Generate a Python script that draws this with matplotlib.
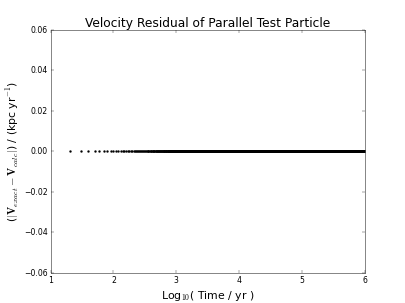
import numpy as np
import matplotlib
matplotlib.use("Agg")
import matplotlib.pyplot as plt

plt.style.use("classic")

# Data: time samples every 10 yr from 20 yr to 1e6 yr,
# residuals all zero.
time_start = 20.0
time_step = 10.0
time_end = 1.0e6
residual_value = 0.0

time = np.arange(time_start, time_end + time_step, time_step)
residual = np.full(time.shape, residual_value)

xticks = [1, 2, 3, 4, 5, 6]
yticks = [-0.06, -0.04, -0.02, 0.00, 0.02, 0.04, 0.06]

fig = plt.figure(figsize=(8, 6), dpi=50.625, facecolor="white")
ax = fig.add_subplot(111)
ax.plot(np.log10(time), residual, ".", color="black", markersize=5.5)
ax.set_xlim(1, 6)
ax.set_ylim(-0.06, 0.06)
ax.set_xticks(xticks)
ax.set_yticks(yticks)
ax.set_yticklabels([("%.2f" % v).replace("-", "\u2212") for v in yticks])
ax.tick_params(labelsize=11)
ax.set_title("Velocity Residual of Parallel Test Particle", fontsize=17.5)
ax.set_xlabel(r"Log$_{10}$( Time / yr )", fontsize=15.5)
ax.set_ylabel(r"($|\mathbf{V}_{exact} - \mathbf{V}_{calc}|$) / (kpc yr$^{-1}$)", fontsize=15.5)
for s in ax.spines.values():
    s.set_color("#555555")
fig.savefig("out.png", dpi=50.625, facecolor="white")
